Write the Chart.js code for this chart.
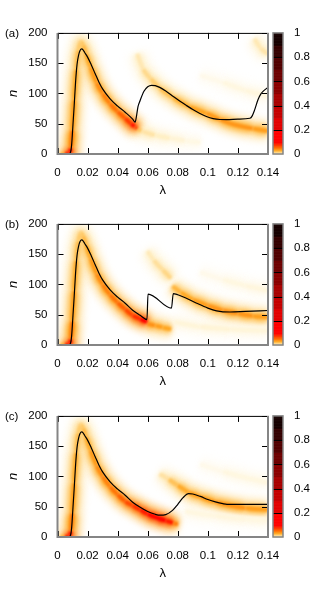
<!DOCTYPE html>
<html>
<head>
<meta charset="utf-8">
<script src="https://cdn.jsdelivr.net/npm/chart.js@4.4.0/dist/chart.umd.min.js"></script>
<style>
html, body { margin: 0; padding: 0; background: #fff; }
body { width: 325px; height: 591px; position: relative; overflow: hidden; }
canvas { position: absolute; left: 0; }
</style>
</head>
<body>
<canvas id="panelA" width="325" height="197" style="top:0px"></canvas>
<canvas id="panelB" width="325" height="197" style="top:191px"></canvas>
<canvas id="panelC" width="325" height="197" style="top:383px"></canvas>
<script>
// axis ticks
const lambdaTicks = [0, 0.02, 0.04, 0.06, 0.08, 0.1, 0.12, 0.14];
const nTicks = [0, 50, 100, 150, 200];
const cbTicks = [0, 0.2, 0.4, 0.6, 0.8, 1];

// black curve, first branch shared by all panels [lambda, n]
const lineStart = [[0,0],[0.0065,0],[0.0078,0.5],[0.0087,3],[0.0094,15],[0.0102,45],[0.0111,80],[0.012,118],
  [0.013,148],[0.014,163],[0.015,171],[0.0161,173.5],[0.017,172],[0.018,168],[0.02,160],[0.0225,147],
  [0.025,133],[0.0275,119],[0.03,107.5],[0.035,91],[0.04,79],[0.045,69],[0.05,57.5]];
const lineA = [[0.0516,52.5],[0.0525,62],[0.0535,78],[0.0549,88],[0.0575,103.5],[0.06,111],[0.0626,113.5],
  [0.065,113],[0.068,110],[0.072,104],[0.077,95],[0.0815,87],[0.0858,80],[0.09,73.5],[0.0947,67],[0.099,62],
  [0.1035,58.5],[0.108,57],[0.1124,56.8],[0.12,57.5],[0.128,59],[0.1295,63],[0.131,72],[0.1334,90],
  [0.1355,100],[0.1367,103.5],[0.14,110]];
const lineB = [[0.055,49],[0.0595,42],[0.0602,84],[0.0758,61],[0.077,85],[0.08,83],[0.085,78],[0.0926,69],
  [0.1,61],[0.1058,56.5],[0.1147,54.5],[0.125,55.5],[0.14,57]];
const lineC = [[0.055,49],[0.06,42],[0.065,37.5],[0.0683,36],[0.072,37],[0.0765,44],[0.08,54],[0.0835,65],
  [0.0872,71.5],[0.09,71],[0.095,67],[0.1,62],[0.105,58],[0.11,55],[0.1127,54],[0.14,54]];

// density ridges [lambda, n, density]
const ridgeStart = [[0.002,0,0.01],[0.005,0.5,0.05],[0.0075,2,0.12],[0.0088,10,0.06],[0.0098,40,0.04],
  [0.011,90,0.035],[0.0125,140,0.03],[0.014,172,0.022],[0.0155,185,0.02],[0.017,180,0.024],[0.019,165,0.03],
  [0.022,143,0.036],[0.026,118,0.042],[0.03,100,0.046],[0.035,83,0.05],[0.04,70,0.056],[0.045,59,0.065]];
const ridgeA_main = [[0.049,50,0.085],[0.0515,45,0.1],[0.053,42,0.05]];
const ridgeA_low = [[0.0515,44,0.03],[0.056,38,0.015],[0.065,31,0.01],[0.075,26,0.007],[0.085,22,0.005],[0.095,19,0.003]];
const ridgeA_second = [[0.053,165,0.008],[0.057,140,0.014],[0.062,124,0.018],[0.068,109,0.022],[0.077,93,0.028],
  [0.088,78,0.034],[0.099,67,0.038],[0.108,57,0.04],[0.117,49,0.042],[0.13,42,0.04],[0.14,38,0.036]];
const ridgeA_upper = [[0.095,130,0.002],[0.11,118,0.004],[0.125,105,0.005],[0.14,95,0.005]];
const ridgeA_top = [[0.131,190,0.008],[0.135,175,0.013],[0.14,165,0.011]];

const ridgeB_main = [[0.05,49,0.075],[0.055,43,0.09],[0.0595,38,0.11]];
const ridgeB_low = [[0.0598,35,0.045],[0.065,32,0.04],[0.07,29,0.036],[0.0755,26,0.034]];
const ridgeB_mid = [[0.0598,155,0.008],[0.064,140,0.012],[0.07,124,0.016],[0.0755,110,0.018]];
const ridgeB_second = [[0.0765,97,0.026],[0.082,87,0.032],[0.09,75,0.036],[0.1,65,0.04],[0.11,57,0.042],
  [0.12,52,0.042],[0.13,48,0.04],[0.14,46,0.036]];
const ridgeB_lower = [[0.0775,38,0.005],[0.095,30,0.006],[0.115,26,0.006],[0.14,24,0.005]];
const ridgeB_upper = [[0.095,120,0.002],[0.11,108,0.004],[0.125,98,0.005],[0.14,90,0.005]];

const ridgeC_main = [[0.05,52,0.075],[0.055,45,0.085],[0.06,38,0.095],[0.066,32,0.11],[0.072,27,0.11],[0.077,23,0.07],[0.08,21,0.03]];
const ridgeC_second = [[0.068,104,0.008],[0.074,95,0.018],[0.08,85,0.03],[0.087,74,0.036],[0.095,66,0.038],
  [0.105,58,0.04],[0.115,52,0.042],[0.125,48,0.04],[0.14,45,0.036]];
const ridgeC_upper = [[0.095,120,0.002],[0.11,108,0.004],[0.125,98,0.005],[0.14,90,0.004]];
const ridgeC_lower = [[0.085,42,0.004],[0.105,35,0.005],[0.125,30,0.005],[0.14,28,0.004]];

Chart.defaults.font.family = '"Liberation Sans", Arial, sans-serif';
Chart.defaults.color = '#000';

// colour map: white -> yellow -> orange -> red, then stepped red -> black
const lowStops = [[0,[255,255,255]],[0.008,[255,240,200]],[0.02,[255,205,110]],[0.035,[255,165,30]],[0.06,[255,95,0]],[0.1,[255,0,0]]];
function heatColor(v) {
  if (v >= 0.1) {
    const k = Math.min(9, Math.floor(v * 10 + 1e-9));
    return `rgb(${Math.round(255 - (k - 1) * 29)},0,0)`;
  }
  v = Math.max(0, v);
  for (let i = 1; i < lowStops.length; i++) {
    if (v <= lowStops[i][0]) {
      const [v0, c0] = lowStops[i - 1], [v1, c1] = lowStops[i];
      const t = (v - v0) / (v1 - v0);
      const c = c0.map((a, j) => Math.round(a + (c1[j] - a) * t));
      return `rgb(${c[0]},${c[1]},${c[2]})`;
    }
  }
  return 'rgb(255,0,0)';
}

// three blurred strokes per ridge: halo, body, core
function heatLayers(pts) {
  const layers = [[18, 4.5, 0.35, 3], [9, 2.5, 0.7, 2], [4, 1.2, 1, 1]];
  return layers.map(([w, b, k, ord]) => ({
    data: pts.map(p => ({ x: p[0], y: p[1] })),
    borderWidth: w,
    blur: b,
    order: ord,
    pointRadius: 0,
    cubicInterpolationMode: 'monotone',
    borderJoinStyle: 'round',
    borderColor: heatColor(pts[0][2] * k),
    segment: { borderColor: c => heatColor(k * (pts[c.p0DataIndex][2] + pts[c.p1DataIndex][2]) / 2) }
  }));
}

function blackLine(pts) {
  return {
    data: pts.map(p => ({ x: p[0], y: p[1] })),
    borderColor: '#000', borderWidth: 1.2, pointRadius: 0, order: 0,
    cubicInterpolationMode: 'monotone'
  };
}

const blurPlugin = {
  id: 'blurPlugin',
  beforeDatasetDraw(chart, args) {
    const b = chart.data.datasets[args.index].blur;
    if (b) { chart.ctx.save(); chart.ctx.filter = `blur(${b}px)`; }
  },
  afterDatasetDraw(chart, args) {
    if (chart.data.datasets[args.index].blur) chart.ctx.restore();
  }
};

// border with inward ticks, colour bar, panel label
const framePlugin = {
  id: 'framePlugin',
  afterDatasetsDraw(chart) {
    const { ctx, chartArea: a, scales: { x, y } } = chart;
    ctx.save();
    ctx.strokeStyle = '#000';
    ctx.lineWidth = 1;
    ctx.beginPath();
    lambdaTicks.forEach(v => {
      const px = Math.round(x.getPixelForValue(v)) + 0.5;
      ctx.moveTo(px, a.bottom); ctx.lineTo(px, a.bottom - 6);
      ctx.moveTo(px, a.top); ctx.lineTo(px, a.top + 6);
    });
    nTicks.forEach(v => {
      const py = Math.round(y.getPixelForValue(v)) + 0.5;
      ctx.moveTo(a.left, py); ctx.lineTo(a.left + 6, py);
      ctx.moveTo(a.right, py); ctx.lineTo(a.right - 6, py);
    });
    ctx.stroke();
    ctx.beginPath();
    ctx.moveTo(a.left, a.top + 0.5); ctx.lineTo(a.right, a.top + 0.5);
    ctx.stroke();
    ctx.strokeStyle = '#858585';
    ctx.lineWidth = 2;
    ctx.beginPath();
    ctx.moveTo(a.left, a.top); ctx.lineTo(a.left, a.bottom); ctx.lineTo(a.right, a.bottom); ctx.lineTo(a.right, a.top);
    ctx.stroke();
    ctx.restore();
  },
  afterDraw(chart, args, opts) {
    const { ctx, scales: { cb } } = chart;
    const x0 = 273, x1 = 283;
    ctx.save();
    for (let v = 0; v < 1; v += 0.005) {
      const yTop = cb.getPixelForValue(v + 0.005), yBot = cb.getPixelForValue(v);
      ctx.fillStyle = heatColor(Math.max(v + 0.0025, 0.012));
      ctx.fillRect(x0, yTop, x1 - x0, yBot - yTop + 0.6);
    }
    ctx.strokeStyle = '#000';
    ctx.lineWidth = 1;
    ctx.beginPath();
    cbTicks.slice(1, -1).forEach(v => {
      const py = Math.round(cb.getPixelForValue(v)) + 0.5;
      ctx.moveTo(x0, py); ctx.lineTo(x1, py);
    });
    ctx.stroke();
    ctx.strokeStyle = '#858585';
    ctx.lineWidth = 1.5;
    ctx.strokeRect(x0, cb.getPixelForValue(1), x1 - x0, cb.getPixelForValue(0) - cb.getPixelForValue(1));
    ctx.fillStyle = '#000';
    ctx.font = '11.5px "Liberation Sans", Arial, sans-serif';
    ctx.textBaseline = 'middle';
    ctx.fillText(opts.label, 5, cb.getPixelForValue(1) + 1);
    ctx.restore();
  }
};

function makePanel(id, label, line, ridges) {
  const datasets = [blackLine(line)];
  ridges.forEach(r => datasets.push(...heatLayers(r)));
  return new Chart(document.getElementById(id), {
    type: 'line',
    data: { datasets },
    plugins: [blurPlugin, framePlugin],
    options: {
      responsive: false,
      animation: false,
      devicePixelRatio: 1,
      layout: { padding: { top: 23, right: 0, bottom: 0, left: 0 } },
      plugins: { legend: { display: false }, tooltip: { enabled: false }, framePlugin: { label } },
      scales: {
        x: {
          type: 'linear', min: 0, max: 0.14,
          grid: { display: false, drawTicks: false }, border: { display: false },
          afterBuildTicks: s => { s.ticks = lambdaTicks.map(v => ({ value: v })); },
          afterFit: s => { s.height = 43; },
          ticks: { autoSkip: false, maxRotation: 0, padding: 12, font: { size: 11.5 },
            callback: v => String(+v.toFixed(2)) },
          title: { display: true, text: 'λ', font: { size: 13, lineHeight: 1 }, padding: { top: 0, bottom: 0 } }
        },
        y: {
          type: 'linear', min: 0, max: 200,
          grid: { display: false, drawTicks: false }, border: { display: false },
          afterBuildTicks: s => { s.ticks = nTicks.map(v => ({ value: v })); },
          afterFit: s => { s.width = 57.5; },
          ticks: { padding: 10, font: { size: 11.5 } },
          title: { display: true, text: 'n', font: { size: 13, style: 'italic', lineHeight: 1 }, padding: { top: 7, bottom: 0 } }
        },
        cb: {
          type: 'linear', position: 'right', min: 0, max: 1,
          grid: { display: false, drawTicks: false }, border: { display: false },
          afterBuildTicks: s => { s.ticks = cbTicks.map(v => ({ value: v })); },
          afterFit: s => { s.width = 57; },
          ticks: { padding: 26, font: { size: 11.5 },
            callback: v => (v === 0 || v === 1) ? String(v) : v.toFixed(1) }
        }
      }
    }
  });
}

makePanel('panelA', '(a)', lineStart.concat(lineA),
  [ridgeStart.concat(ridgeA_main), ridgeA_low, ridgeA_second, ridgeA_upper, ridgeA_top]);
makePanel('panelB', '(b)', lineStart.concat(lineB),
  [ridgeStart.concat(ridgeB_main), ridgeB_low, ridgeB_mid, ridgeB_second, ridgeB_lower, ridgeB_upper]);
makePanel('panelC', '(c)', lineStart.concat(lineC),
  [ridgeStart.concat(ridgeC_main), ridgeC_second, ridgeC_upper, ridgeC_lower]);
</script>
</body>
</html>
